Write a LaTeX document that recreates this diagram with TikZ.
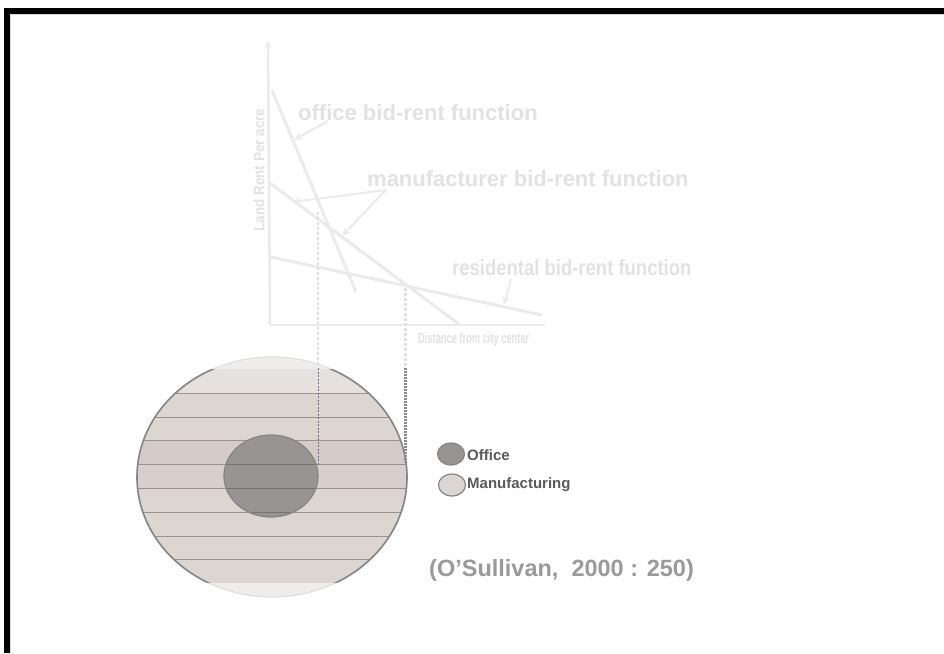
\documentclass[tikz,border=0pt]{standalone}
\usepackage{fontspec}
\setmainfont{Liberation Sans}
\usetikzlibrary{arrows.meta,shapes.geometric}
\definecolor{faint}{HTML}{EBEBEB}
\definecolor{faintlbl}{HTML}{E2E2E2}
\definecolor{faintdash}{HTML}{E0E0E0}
\definecolor{manuf}{HTML}{DCD6D3}
\definecolor{manuftop}{HTML}{E5E1DF}
\definecolor{manufmid}{HTML}{D5CBC8}
\definecolor{manufout}{HTML}{EFEDEC}
\definecolor{officefill}{HTML}{989494}
\definecolor{ringline}{HTML}{858585}
\definecolor{stripe}{HTML}{9A9090}
\definecolor{legtext}{HTML}{5A5A5A}
\definecolor{citecol}{HTML}{9A9A9A}
\definecolor{dashpurple}{HTML}{6A6A8A}
\definecolor{dashgray}{HTML}{8A8A8A}
\tikzset{
  curve/.style={draw=faint, line width=3pt},
  biglabel/.style={font=\bfseries\fontsize{22}{24}\selectfont, text=faintlbl, inner sep=0pt, anchor=west},
  pointer/.style={draw=faint, line width=2pt, -{Stealth[length=9pt,width=8pt]}},
  legdot/.style={draw=ringline, line width=1.2pt},
  legtxt/.style={font=\bfseries\fontsize{15}{17}\selectfont, text=legtext, inner sep=0pt, anchor=west},
}
\begin{document}
\begin{tikzpicture}[x=1pt,y=-1pt]
\useasboundingbox (0,0) rectangle (944,653);
\fill[white] (0,0) rectangle (944,653);
% frame
\fill[black] (4,8) rectangle (944,14);
\fill[black] (4,8) rectangle (10,653);
\draw[gray!30, line width=0.8pt] (10.5,14.5) -- (944,14.5);
\draw[gray!30, line width=0.8pt] (10.5,14.5) -- (10.5,653);

% chart coordinates
\coordinate (ytop) at (268,40);
\coordinate (origin) at (270,325);
\coordinate (xend) at (545,325);
\coordinate (offA) at (272,90);
\coordinate (offB) at (356,292);
\coordinate (manA) at (270,183);
\coordinate (manB) at (460,325);
\coordinate (resA) at (271,257);
\coordinate (resB) at (542,315);
\coordinate (d1top) at (318,212);
\coordinate (d1mid) at (318,368);
\coordinate (d1bot) at (318,466);
\coordinate (d2top) at (405,288);
\coordinate (d2mid) at (405,368);
\coordinate (d2bot) at (405,462);

% axes
\draw[faint, line width=2.5pt, -{Stealth[length=8pt,width=7pt]}] (origin) -- (ytop);
\draw[faint, line width=2.5pt] (origin) -- (xend);
% curves
\draw[curve] (offA) -- (offB);
\draw[curve] (manA) -- (manB);
\draw[curve] (resA) -- (resB);

% labels
\node[rotate=90, font=\bfseries\fontsize{15}{17}\selectfont, text=faintlbl, inner sep=0pt] (ylab) at (259,170) {\scalebox{0.9}[1]{Land Rent Per acre}};
\node[biglabel] (offlbl) at (298,113) {office bid-rent function};
\node[biglabel] (manlbl) at (367,179) {manufacturer bid-rent function};
\node[biglabel] (reslbl) at (452,268) {\scalebox{0.84}[1]{residental bid-rent function}};
\node[inner sep=0pt, anchor=west, text=faintlbl, font=\bfseries\fontsize{15}{16}\selectfont] (xlab) at (418,340) {\scalebox{0.62}[1]{Distance from city center}};

% pointers
\coordinate (offP) at (328,121);
\coordinate (manP) at (386,190);
\coordinate (resP) at (511,279);
\draw[pointer] (offP) -- (294,140);
\draw[pointer] (manP) -- (292,202);
\draw[pointer] (manP) -- (342,236);
\draw[pointer] (resP) -- (504,305);

% dashed projection lines (upper part)
\draw[faintdash, line width=2.5pt, dash pattern=on 3pt off 2pt] (d1top) -- (d1mid);
\draw[faintdash, line width=3pt, dash pattern=on 3pt off 2pt] (d2top) -- (d2mid);

% outer ring (manufacturing)
\coordinate (cen) at (272,477);
\fill[manufout] (cen) ellipse [x radius=135, y radius=120];
\draw[gray!25, line width=1.2pt] (cen) ellipse [x radius=135, y radius=120];
\begin{scope}
  \clip (0,369) rectangle (944,582);
  \fill[manuf] (cen) ellipse [x radius=135, y radius=120];
  \begin{scope}
    \clip (cen) ellipse [x radius=135, y radius=120];
    \fill[manuftop] (100,369) rectangle (420,393);
    \fill[manufmid] (100,440) rectangle (420,464);
    \fill[manufmid!60!manuf] (100,464) rectangle (420,488);
    \foreach \yy in {393,417,440,464,488,512,536,559}
      \draw[stripe, line width=0.6pt] (100,\yy) -- (420,\yy);
  \end{scope}
  \draw[ringline, line width=1.6pt] (cen) ellipse [x radius=135, y radius=120];
\end{scope}

% inner (office)
\node[draw=ringline, fill=officefill, line width=1.3pt, ellipse, minimum width=94pt, minimum height=82pt, inner sep=0pt] (office) at (271,476) {};
\begin{scope}
  \clip (271,476) ellipse [x radius=46, y radius=40];
  \foreach \yy in {464,488,512}
    \draw[black!55, line width=0.6pt] (200,\yy) -- (340,\yy);
\end{scope}

% dashed projection lines (lower part)
\draw[dashpurple, line width=1pt, dash pattern=on 2pt off 1.5pt] (d1mid) -- (d1bot);
\draw[dashgray, line width=3pt, dash pattern=on 2pt off 1pt] (d2mid) -- (d2bot);

% legend
\node[legdot, fill=officefill, ellipse, minimum width=27pt, minimum height=22pt, inner sep=0pt] (legoff) at (451,454) {};
\node[legdot, fill=manuf, ellipse, minimum width=27pt, minimum height=22pt, inner sep=0pt] (legman) at (452,485) {};
\node[legtxt] (legofft) at (467,455) {Office};
\node[legtxt] (legmant) at (467,485) {Manufacturing};

% citation
\node[inner sep=0pt, anchor=west, text=citecol, font=\bfseries\fontsize{23.5}{26}\selectfont] (cite) at (429,570) {(O’Sullivan,\ \ 2000 : 250)};
\end{tikzpicture}
\end{document}
